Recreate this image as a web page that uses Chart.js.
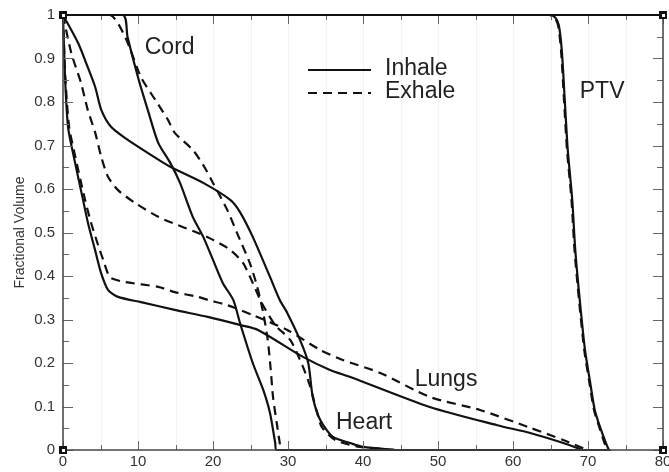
<!DOCTYPE html>
<html>
<head>
<meta charset="utf-8">
<script src="https://cdn.jsdelivr.net/npm/chart.js@4.4.1/dist/chart.umd.min.js"></script>
<style>
    html, body { margin: 0; padding: 0; background: #fff; overflow: hidden; }
    #wrap { width: 669px; height: 472px; position: relative; }
</style>
</head>
<body>
<div id="wrap"><canvas id="dvhChart"></canvas></div>
<script>
// Dose-volume histogram: inhale (solid) vs exhale (dashed)
const xTicks = [0, 10, 20, 30, 40, 50, 60, 70, 80];
const xMinorTicks = [5, 15, 25, 35, 45, 55, 65, 75];
const yTicks = [0, 0.1, 0.2, 0.3, 0.4, 0.5, 0.6, 0.7, 0.8, 0.9, 1];
const yTickLabels = ['0', '0.1', '0.2', '0.3', '0.4', '0.5', '0.6', '0.7', '0.8', '0.9', '1'];
const yMinorTicks = [0.05, 0.15, 0.25, 0.35, 0.45, 0.55, 0.65, 0.75, 0.85, 0.95];

const seriesNames = ['Inhale', 'Exhale'];

// Cord
const cordInhaleDose = [0, 8.0, 8.6, 10.0, 11.3, 12.7, 14.3, 15.6, 17.3, 18.7, 20.0, 21.3, 22.7, 23.6, 25.3, 26.7, 27.6, 28.3, 28.5, 73];
const cordInhaleVol  = [1, 1, 0.95, 0.857, 0.782, 0.706, 0.66, 0.614, 0.536, 0.49, 0.437, 0.384, 0.345, 0.292, 0.2, 0.138, 0.085, 0.016, 0, 0];
const cordExhaleDose = [0, 6.3, 8.3, 10.4, 12.3, 14.0, 14.9, 17.3, 18.7, 20.0, 21.9, 23.2, 24.9, 25.9, 26.7, 27.3, 27.7, 28.0, 28.5, 28.9, 29.1, 73];
const cordExhaleVol  = [1, 1, 0.949, 0.857, 0.805, 0.759, 0.729, 0.69, 0.655, 0.614, 0.552, 0.499, 0.43, 0.375, 0.315, 0.253, 0.184, 0.122, 0.062, 0.016, 0, 0];

// Heart
const heartInhaleDose = [0, 2.0, 3.3, 4.3, 5.1, 6.4, 8.3, 11.3, 14.3, 18.7, 22.3, 23.6, 25.3, 27.6, 28.9, 29.9, 31.6, 32.7, 33.3, 34.3, 36.0, 38.3, 40.0, 44.5];
const heartInhaleVol  = [1, 0.936, 0.88, 0.834, 0.782, 0.743, 0.717, 0.683, 0.651, 0.614, 0.575, 0.547, 0.49, 0.398, 0.345, 0.315, 0.253, 0.2, 0.122, 0.069, 0.03, 0.016, 0.007, 0];
const heartExhaleDose = [0, 1.1, 2.4, 3.3, 4.3, 5.1, 6.0, 7.3, 9.6, 12.7, 15.3, 18.0, 20.0, 22.3, 24.0, 25.3, 26.5, 28.3, 30.3, 31.9, 32.9, 33.9, 34.5, 36.3, 39.6, 44.3];
const heartExhaleVol  = [1, 0.913, 0.844, 0.782, 0.729, 0.674, 0.628, 0.598, 0.568, 0.536, 0.517, 0.499, 0.483, 0.46, 0.43, 0.384, 0.338, 0.287, 0.253, 0.195, 0.149, 0.085, 0.053, 0.023, 0.007, 0];

// Lungs
const lungInhaleDose = [0, 0.27, 0.67, 1.33, 2.67, 3.33, 4.27, 5.07, 6.0, 7.33, 10.4, 14.9, 19.3, 23.7, 26.0, 32.0, 35.6, 38.3, 48.9, 57.9, 62.3, 66.7, 69.3];
const lungInhaleVol  = [1, 0.857, 0.743, 0.683, 0.575, 0.522, 0.46, 0.407, 0.368, 0.352, 0.34, 0.322, 0.306, 0.287, 0.276, 0.214, 0.184, 0.168, 0.099, 0.057, 0.039, 0.016, 0];
const lungExhaleDose = [0, 0.3, 0.8, 1.5, 2.9, 3.7, 4.7, 5.5, 6.0, 6.4, 8.3, 12.7, 14.9, 18.0, 19.3, 21.9, 25.3, 29.9, 34.3, 37.3, 42.3, 48.9, 55.6, 62.3, 66.7, 69.9];
const lungExhaleVol  = [1, 0.86, 0.745, 0.685, 0.578, 0.525, 0.47, 0.43, 0.405, 0.395, 0.386, 0.375, 0.363, 0.352, 0.345, 0.333, 0.31, 0.276, 0.23, 0.207, 0.177, 0.122, 0.092, 0.051, 0.023, 0];

// PTV
const ptvInhaleDose = [0, 63.6, 64.9, 65.6, 66.1, 66.5, 66.9, 67.3, 67.9, 68.3, 68.9, 69.6, 70.3, 70.9, 71.6, 72.5, 72.8];
const ptvInhaleVol  = [1, 1, 1, 0.995, 0.977, 0.92, 0.805, 0.69, 0.575, 0.46, 0.345, 0.23, 0.154, 0.092, 0.053, 0.011, 0];
const ptvExhaleDose = [0, 63.4, 64.8, 65.5, 66.0, 66.4, 66.8, 67.2, 67.8, 68.2, 68.8, 69.5, 70.2, 70.8, 71.5, 72.3, 72.6];
const ptvExhaleVol  = [1, 1, 1, 0.995, 0.977, 0.92, 0.805, 0.69, 0.575, 0.46, 0.345, 0.23, 0.154, 0.092, 0.053, 0.011, 0];

// structure labels placed in data coordinates
const structureNames = ['Cord', 'PTV', 'Lungs', 'Heart'];
const structureLabelDose = [10.9, 68.9, 46.9, 36.4];
const structureLabelVol = [0.926, 0.823, 0.161, 0.062];

const FONT = "'Liberation Sans', Arial, Helvetica, sans-serif";

function toPoints(xs, ys) {
    return xs.map((x, i) => ({ x: x, y: ys[i] }));
}

function curve(label, xs, ys, dashed) {
    return {
        label: label,
        data: toPoints(xs, ys),
        showLine: true,
        borderColor: '#111',
        borderWidth: 2.2,
        borderDash: dashed ? [9, 6] : [],
        pointRadius: 0,
        tension: 0.25,
        clip: 4
    };
}

const framePlugin = {
    id: 'frame',
    beforeDatasetsDraw(chart) {
        const ctx = chart.ctx;
        const a = chart.chartArea;
        const xs = chart.scales.x;
        ctx.save();
        ctx.strokeStyle = 'rgba(0,0,0,0.05)';
        ctx.lineWidth = 1;
        xTicks.concat(xMinorTicks).forEach(v => {
            const px = Math.round(xs.getPixelForValue(v)) + 0.5;
            ctx.beginPath();
            ctx.moveTo(px, a.top);
            ctx.lineTo(px, a.bottom);
            ctx.stroke();
        });
        ctx.restore();
    },
    afterDatasetsDraw(chart) {
        const ctx = chart.ctx;
        const a = chart.chartArea;
        const xs = chart.scales.x;
        const ys = chart.scales.y;
        ctx.save();

        // inward ticks on all four sides
        ctx.strokeStyle = '#666';
        ctx.lineWidth = 1;
        const drawX = (vals, len) => vals.forEach(v => {
            const px = Math.round(xs.getPixelForValue(v)) + 0.5;
            ctx.beginPath();
            ctx.moveTo(px, a.bottom); ctx.lineTo(px, a.bottom - len);
            ctx.moveTo(px, a.top); ctx.lineTo(px, a.top + len);
            ctx.stroke();
        });
        const drawY = (vals, len) => vals.forEach(v => {
            const py = Math.round(ys.getPixelForValue(v)) + 0.5;
            ctx.beginPath();
            ctx.moveTo(a.left, py); ctx.lineTo(a.left + len, py);
            ctx.moveTo(a.right, py); ctx.lineTo(a.right - len, py);
            ctx.stroke();
        });
        drawX(xTicks, 9);
        drawX(xMinorTicks, 5);
        drawY(yTicks, 10);
        drawY(yMinorTicks, 6);

        // frame
        ctx.strokeStyle = '#444';
        ctx.lineWidth = 1.5;
        ctx.strokeRect(a.left, a.top, a.right - a.left, a.bottom - a.top);
        ctx.strokeStyle = '#111';
        ctx.lineWidth = 2;
        ctx.beginPath();
        ctx.moveTo(a.left, a.top);
        ctx.lineTo(a.right, a.top);
        ctx.stroke();

        // corner markers
        [[a.left, a.top], [a.left, a.bottom], [a.right, a.bottom], [a.right, a.top]].forEach(p => {
            ctx.fillStyle = '#111';
            ctx.fillRect(p[0] - 4, p[1] - 4, 8, 8);
            ctx.fillStyle = '#fff';
            ctx.fillRect(p[0] - 1, p[1] - 1, 3, 3);
        });

        // legend
        ctx.strokeStyle = '#111';
        ctx.lineWidth = 2.2;
        ctx.fillStyle = '#222';
        ctx.font = '23px ' + FONT;
        ctx.textBaseline = 'middle';
        ctx.textAlign = 'left';
        const lx0 = a.left + 245, lx1 = a.left + 308, ly = a.top + 55;
        seriesNames.forEach((name, i) => {
            const yy = ly + i * 23;
            ctx.setLineDash(i === 0 ? [] : [9, 6]);
            ctx.beginPath();
            ctx.moveTo(lx0, yy);
            ctx.lineTo(lx1, yy);
            ctx.stroke();
            ctx.fillText(name, lx1 + 14, yy - 1);
        });
        ctx.setLineDash([]);

        // structure labels
        structureNames.forEach((name, i) => {
            ctx.fillText(name, xs.getPixelForValue(structureLabelDose[i]), ys.getPixelForValue(structureLabelVol[i]));
        });
        ctx.restore();
    }
};

new Chart(document.getElementById('dvhChart'), {
    type: 'scatter',
    data: {
        datasets: [
            curve('Cord Inhale', cordInhaleDose, cordInhaleVol, false),
            curve('Cord Exhale', cordExhaleDose, cordExhaleVol, true),
            curve('Heart Inhale', heartInhaleDose, heartInhaleVol, false),
            curve('Heart Exhale', heartExhaleDose, heartExhaleVol, true),
            curve('Lungs Inhale', lungInhaleDose, lungInhaleVol, false),
            curve('Lungs Exhale', lungExhaleDose, lungExhaleVol, true),
            curve('PTV Inhale', ptvInhaleDose, ptvInhaleVol, false),
            curve('PTV Exhale', ptvExhaleDose, ptvExhaleVol, true)
        ]
    },
    options: {
        responsive: true,
        maintainAspectRatio: false,
        animation: false,
        layout: { padding: { left: 0, right: 6, top: 15, bottom: 0 } },
        plugins: {
            legend: { display: false },
            tooltip: { enabled: false }
        },
        scales: {
            x: {
                type: 'linear',
                min: 0,
                max: 80,
                afterBuildTicks: s => { s.ticks = xTicks.map(v => ({ value: v })); },
                afterFit: s => { s.height = 22; s.paddingLeft = 0; s.paddingRight = 0; },
                grid: { display: false, drawTicks: false },
                border: { display: false },
                ticks: {
                    padding: 3,
                    color: '#333',
                    font: { family: FONT, size: 15 },
                    maxRotation: 0,
                    autoSkip: false,
                    callback: v => String(v)
                }
            },
            y: {
                type: 'linear',
                min: 0,
                max: 1,
                afterBuildTicks: s => { s.ticks = yTicks.map(v => ({ value: v })); },
                afterFit: s => { s.width = 63; s.paddingTop = 0; s.paddingBottom = 0; },
                grid: { display: false, drawTicks: false },
                border: { display: false },
                ticks: {
                    padding: 8,
                    color: '#333',
                    font: { family: FONT, size: 15 },
                    autoSkip: false,
                    callback: (v, i) => yTickLabels[i]
                },
                title: {
                    display: true,
                    text: 'Fractional Volume',
                    color: '#333',
                    font: { family: FONT, size: 14 },
                    padding: { top: 12, bottom: 0 }
                }
            }
        }
    },
    plugins: [framePlugin]
});
</script>
</body>
</html>
